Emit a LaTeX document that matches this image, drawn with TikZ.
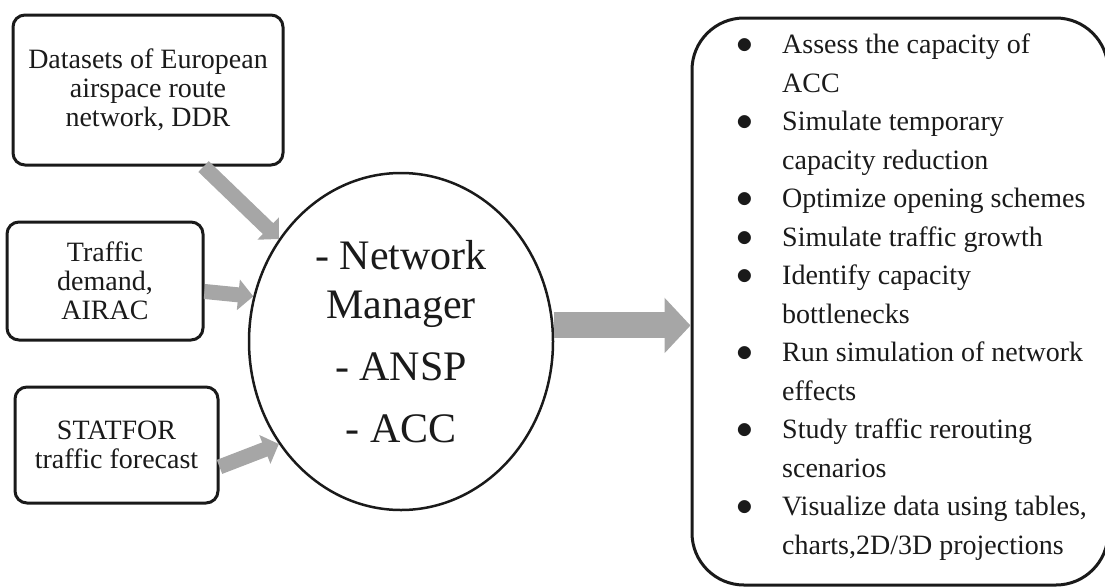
\documentclass[tikz,border=0pt]{standalone}
\usepackage{fontspec}
\setmainfont{Liberation Serif}
\usepackage{xcolor}
\usepackage{graphicx}
\usepackage{tikz}
\usetikzlibrary{arrows.meta,shapes.geometric}
\definecolor{arrowgray}{HTML}{A6A6A6}
\definecolor{inkblack}{HTML}{1A1A1A}
\newcommand{\bul}{\makebox[45.5pt][l]{\raisebox{0pt}{\scalebox{1.35}{$\bullet$}}}}
\newcommand{\cont}{\hspace*{45.5pt}}

\begin{document}
\begin{tikzpicture}[
    x=1pt, y=-1pt,
    srcbox/.style={draw=inkblack, line width=3pt, rounded corners=12pt, align=center,
                   inner sep=0pt, text=inkblack, font=\fontsize{28}{28.8}\selectfont},
    hub/.style={draw=inkblack, line width=2.5pt, ellipse, inner sep=0pt, align=center,
                minimum width=304pt, minimum height=337pt, text=inkblack,
                font=\fontsize{42}{49}\selectfont},
    listbox/.style={draw=inkblack, line width=3pt, rounded corners=52pt,
                    minimum width=416pt, minimum height=567pt},
    listtext/.style={align=left, inner sep=0pt, text=inkblack,
                     font=\fontsize{28}{38.5}\selectfont},
    flow/.style={-{Triangle[length=15pt,width=30pt]}, line width=15pt, color=arrowgray},
    bigflow/.style={-{Triangle[length=26pt,width=54pt]}, line width=26pt, color=arrowgray}
]
    \useasboundingbox (0,0) rectangle (1105,587);

    \node[srcbox, minimum width=270pt, minimum height=150pt] (ddr) at (148,90)
        {Datasets of European\\airspace route\\network, DDR};
    \node[srcbox, minimum width=196pt, minimum height=118pt] (demand) at (105,281)
        {Traffic\\demand,\\AIRAC};
    \node[srcbox, minimum width=203pt, minimum height=116pt] (statfor) at (116.5,445)
        {STATFOR\\traffic forecast};
    \node[hub] (actors) at (401,341.5)
        {- Network\\Manager\\[13pt]- ANSP\\[13pt]- ACC};
    \node[listbox] (uses) at (900,301.5) {};
    \node[listtext, anchor=west] (uselist) at (736.5,297)
        {\bul Assess the capacity of\\
         \cont ACC\\
         \bul Simulate temporary\\
         \cont capacity reduction\\
         \bul Optimize opening schemes\\
         \bul Simulate traffic growth\\
         \bul Identify capacity\\
         \cont bottlenecks\\
         \bul Run simulation of network\\
         \cont effects\\
         \bul Study traffic rerouting\\
         \cont scenarios\\
         \bul Visualize data using tables,\\
         \cont charts,2D/3D projections};

    \draw[flow] (ddr.-54) -- (actors.140.5);
    \draw[flow] (demand.-6.4) -- (actors.163.6);
    \draw[flow] (statfor.-12.2) -- (actors.220.2);
    \draw[bigflow] (actors.6.2) -- (uses.west |- actors.6.2);
\end{tikzpicture}
\end{document}
